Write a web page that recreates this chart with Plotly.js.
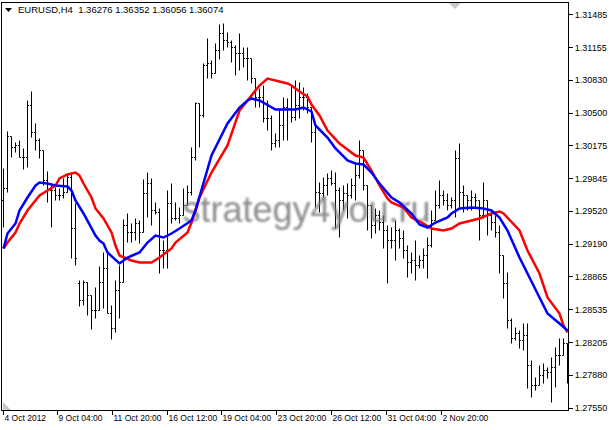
<!DOCTYPE html>
<html><head><meta charset="utf-8">
<script src="https://cdn.plot.ly/plotly-3.0.1.min.js"></script>
<style>html,body{margin:0;padding:0;background:#fff;} #chart{width:610px;height:430px;}</style>
</head><body><div id="chart"></div>
<script>
const headerText = 'EURUSD,H4  1.36276 1.36352 1.36056 1.36074';
const watermarkText = 'strategy4you.ru';

const openP = [
1.29625,1.29745,1.30265,1.30155,1.30175,1.30055,1.30055,1.30575,1.30305,1.30225,
1.30125,1.29825,1.29725,1.29725,1.29675,1.29675,1.29705,1.29855,1.29345,1.28795,
1.28625,1.28805,1.28675,1.28525,1.28525,1.28805,1.28945,1.28495,1.28345,1.28725,
1.28805,1.29375,1.29305,1.29305,1.29395,1.29305,1.29695,1.29795,1.29525,1.29505,
1.29125,1.29125,1.29595,1.29445,1.29445,1.29475,1.29575,1.29705,1.30055,1.30595,
1.30475,1.30975,1.30995,1.30895,1.31125,1.31295,1.31225,1.31205,1.31155,1.31095,
1.31095,1.31045,1.31045,1.30845,1.30655,1.30655,1.30445,1.30445,1.30195,1.30225,
1.30375,1.30555,1.30545,1.30455,1.30575,1.30655,1.30655,1.30555,1.30305,1.29705,
1.29695,1.29775,1.29845,1.29795,1.29725,1.29625,1.29695,1.29675,1.29775,1.29875,
1.30125,1.29775,1.29575,1.29375,1.29475,1.29405,1.29325,1.29225,1.29225,1.29325,
1.29245,1.29125,1.29005,1.29025,1.28975,1.29025,1.29075,1.29175,1.29425,1.29575,
1.29675,1.29625,1.29575,1.29625,1.30045,1.29705,1.29675,1.29625,1.29655,1.29625,
1.29475,1.29625,1.29475,1.29405,1.29305,1.29075,1.28795,1.28425,1.28245,1.28295,
1.28225,1.28275,1.27975,1.27775,1.27775,1.27875,1.27925,1.27905,1.27955,1.28075,
1.28075,1.28195];
const highP = [
1.29945,1.30315,1.30265,1.30205,1.30225,1.30145,1.30625,1.30715,1.30395,1.30245,
1.30125,1.29915,1.29775,1.29755,1.29745,1.29845,1.29895,1.29895,1.29595,1.28825,
1.28825,1.28805,1.28675,1.28755,1.28965,1.29105,1.29095,1.28575,1.28825,1.28975,
1.29435,1.29495,1.29395,1.29445,1.29425,1.29835,1.29905,1.29845,1.29605,1.29545,
1.29225,1.29725,1.29795,1.29605,1.29555,1.29745,1.29775,1.30155,1.30605,1.30595,
1.30995,1.31245,1.31025,1.31195,1.31385,1.31395,1.31305,1.31225,1.31175,1.31295,
1.31155,1.31155,1.31045,1.30845,1.30745,1.30775,1.30625,1.30475,1.30295,1.30525,
1.30655,1.30645,1.30775,1.30825,1.30805,1.30755,1.30695,1.30555,1.30375,1.29805,
1.29855,1.29895,1.29925,1.29905,1.29755,1.29775,1.29795,1.29845,1.29995,1.30225,
1.30125,1.29775,1.29575,1.29545,1.29525,1.29475,1.29375,1.29355,1.29425,1.29345,
1.29325,1.29175,1.29105,1.29225,1.29075,1.29145,1.29255,1.29525,1.29725,1.29825,
1.29725,1.29695,1.29655,1.30125,1.30195,1.29775,1.29675,1.29725,1.29695,1.29625,
1.29805,1.29625,1.29525,1.29475,1.29375,1.29075,1.28905,1.28445,1.28355,1.28325,
1.28395,1.28395,1.28025,1.27855,1.27975,1.27995,1.27955,1.28055,1.28155,1.28245,
1.28245,1.28195];
const lowP = [
1.29355,1.29705,1.30055,1.30105,1.30055,1.29935,1.29955,1.30255,1.30125,1.30045,
1.29775,1.29605,1.29355,1.29625,1.29625,1.29645,1.29705,1.29045,1.28975,1.28565,
1.28575,1.28475,1.28335,1.28445,1.28525,1.28545,1.28495,1.28235,1.28305,1.28445,
1.28805,1.29205,1.29205,1.29225,1.29195,1.29305,1.29455,1.29375,1.29485,1.28895,
1.28945,1.28945,1.29395,1.29425,1.29395,1.29475,1.29575,1.29675,1.30025,1.30155,
1.30455,1.30845,1.30845,1.30895,1.31035,1.31125,1.31155,1.31005,1.30875,1.30925,
1.30955,1.30825,1.30795,1.30555,1.30555,1.30405,1.30325,1.30125,1.30155,1.30155,
1.30225,1.30225,1.30405,1.30425,1.30445,1.30525,1.30495,1.30205,1.29555,1.29505,
1.29655,1.29675,1.29775,1.29345,1.29255,1.29525,1.29445,1.29645,1.29625,1.29845,
1.29725,1.29325,1.29245,1.29295,1.29325,1.29145,1.28795,1.29145,1.29025,1.29145,
1.29045,1.28855,1.28895,1.28825,1.28945,1.28945,1.28845,1.29155,1.29425,1.29545,
1.29575,1.29525,1.29545,1.29455,1.29555,1.29505,1.29525,1.29525,1.29555,1.29225,
1.29445,1.29275,1.29325,1.29255,1.28895,1.28645,1.28345,1.28195,1.28225,1.28145,
1.28125,1.27745,1.27655,1.27725,1.27775,1.27795,1.27845,1.27605,1.27755,1.27975,
1.28075,1.27795];
const closeP = [
1.29745,1.30265,1.30155,1.30175,1.30055,1.30055,1.30575,1.30305,1.30225,1.30125,
1.29825,1.29725,1.29725,1.29675,1.29675,1.29705,1.29855,1.29345,1.29045,1.28625,
1.28805,1.28675,1.28525,1.28525,1.28805,1.28945,1.28495,1.28345,1.28725,1.28805,
1.29375,1.29305,1.29305,1.29395,1.29305,1.29695,1.29795,1.29525,1.29505,1.29125,
1.29125,1.29595,1.29445,1.29445,1.29475,1.29575,1.29705,1.30055,1.30595,1.30475,
1.30975,1.30995,1.30895,1.31125,1.31295,1.31225,1.31205,1.31155,1.31095,1.31095,
1.31045,1.31045,1.30845,1.30655,1.30655,1.30445,1.30445,1.30195,1.30225,1.30375,
1.30555,1.30545,1.30455,1.30575,1.30655,1.30655,1.30555,1.30305,1.29705,1.29695,
1.29775,1.29845,1.29795,1.29725,1.29625,1.29695,1.29675,1.29775,1.29875,1.30125,
1.29775,1.29575,1.29375,1.29475,1.29405,1.29325,1.29225,1.29225,1.29325,1.29245,
1.29125,1.29005,1.29025,1.28975,1.29025,1.29075,1.29175,1.29425,1.29575,1.29675,
1.29625,1.29575,1.29625,1.30045,1.29705,1.29675,1.29625,1.29655,1.29625,1.29475,
1.29625,1.29475,1.29405,1.29305,1.29075,1.28795,1.28425,1.28245,1.28295,1.28225,
1.28275,1.27975,1.27775,1.27775,1.27875,1.27925,1.27905,1.27955,1.28075,1.28075,
1.28195,1.27825];

// moving averages read at bar positions
const blueIdx = [0,1,3,4,6,8,9,11,13,16,17,18,20,22,23,24,25,26,28,29,31,34,36,38,40,42,44,47,48,50,52,56,59,61,62,64,67,68,71,73,75,77,78,81,83,86,88,90,92,94,97,99,102,104,106,108,111,112,114,117,120,122,124,126,129,131,134,136,139,141];
const blueVal = [1.29145,1.29295,1.29395,1.29525,1.29655,1.29775,1.29805,1.29795,1.29775,1.29765,
1.29725,1.29625,1.29495,1.29355,1.29275,1.29225,1.29195,1.29105,1.29025,1.28995,
1.29055,1.29105,1.29205,1.29275,1.29255,1.29295,1.29345,1.29425,1.29525,1.29795,
1.30075,1.30395,1.30555,1.30625,1.30645,1.30625,1.30555,1.30535,1.30535,1.30535,
1.30555,1.30515,1.30375,1.30255,1.30145,1.30025,1.29995,1.29985,1.29905,1.29795,
1.29655,1.29605,1.29495,1.29385,1.29355,1.29405,1.29455,1.29495,1.29545,1.29555,
1.29545,1.29525,1.29455,1.29325,1.29055,1.28895,1.28655,1.28495,1.28395,1.28325];
const redIdx = [0,1,3,4,6,8,9,11,13,14,16,18,19,20,22,23,25,27,28,29,32,34,37,39,42,43,46,47,49,52,56,59,62,64,66,68,71,72,74,76,77,79,81,84,87,88,90,92,94,96,97,100,102,105,107,110,112,114,117,119,122,124,125,126,129,131,134,136,139,140,141];
const redVal = [1.29145,1.29205,1.29305,1.29395,1.29525,1.29625,1.29675,1.29725,1.29775,1.29845,
1.29885,1.29905,1.29875,1.29795,1.29655,1.29545,1.29445,1.29305,1.29175,1.29075,
1.29025,1.29005,1.29005,1.29055,1.29145,1.29205,1.29305,1.29405,1.29655,1.29905,
1.30175,1.30525,1.30675,1.30775,1.30845,1.30825,1.30795,1.30775,1.30715,1.30665,
1.30585,1.30475,1.30325,1.30195,1.30105,1.30075,1.30055,1.29925,1.29775,1.29645,
1.29605,1.29555,1.29455,1.29395,1.29345,1.29325,1.29345,1.29395,1.29425,1.29445,
1.29495,1.29515,1.29495,1.29455,1.29325,1.29125,1.28895,1.28655,1.28495,1.28375,1.28305];

const yTickVals = [1.31485,1.31155,1.30830,1.30500,1.30175,1.29845,1.29520,1.29190,1.28865,1.28535,1.28205,1.27880,1.27550];
const yTickLabels = ['1.31485','1.31155','1.30830','1.30500','1.30175','1.29845','1.29520','1.29190','1.28865','1.28535','1.28205','1.27880','1.27550'];
const xTickPos = [0,13.5,27.25,41,54.5,68.25,82,95.75,109.5];
const xTickLabels = ['4 Oct 2012','9 Oct 04:00','11 Oct 20:00','16 Oct 12:00','19 Oct 04:00','23 Oct 20:00','26 Oct 12:00','31 Oct 04:00','2 Nov 20:00'];

const barIdx = openP.map((_, i) => i);

const W = 610, H = 430, ML = 2, MR = 42, MT = 3, MB = 20;
const px = x => (x - ML) / (W - ML - MR);
const py = y => 1 - (y - MT) / (H - MT - MB);

const traces = [
  {type:'scatter', mode:'text', x:[75.75], y:[1.2950], text:[watermarkText],
   textfont:{family:'Liberation Sans, Arial, sans-serif', size:36, color:'rgba(120,120,120,0.85)'},
   hoverinfo:'skip', showlegend:false},
  {type:'ohlc', x:barIdx, open:openP, high:highP, low:lowP, close:closeP,
   increasing:{line:{color:'#000000', width:1}}, decreasing:{line:{color:'#000000', width:1}},
   tickwidth:0.35, hoverinfo:'skip', showlegend:false},
  {type:'scatter', mode:'lines', x:redIdx, y:redVal, line:{color:'#ff0000', width:2.5}, hoverinfo:'skip', showlegend:false},
  {type:'scatter', mode:'lines', x:blueIdx, y:blueVal, line:{color:'#0000ff', width:2.5}, hoverinfo:'skip', showlegend:false}
];

const layout = {
  width: W, height: H,
  margin: {l:ML, r:MR, t:MT, b:MB, pad:0},
  paper_bgcolor:'#ffffff', plot_bgcolor:'#ffffff', showlegend:false,
  font:{family:'Liberation Sans, Arial, sans-serif', size:9, color:'#000000'},
  xaxis:{range:[-0.375,141.125], showgrid:false, zeroline:false, showline:true, linecolor:'#000', linewidth:1, mirror:true,
    ticks:'outside', ticklen:4, tickcolor:'#000', tickwidth:1, tickvals:xTickPos, ticktext:xTickLabels, tickangle:0,
    ticklabelposition:'outside right', ticklabelstandoff:0, tickfont:{size:8.5, color:'#000'}, rangeslider:{visible:false}, fixedrange:true},
  yaxis:{side:'right', range:[1.2753,1.316], showgrid:false, zeroline:false, showline:true, linecolor:'#000', linewidth:1, mirror:true,
    ticks:'outside', ticklen:4, tickcolor:'#000', tickwidth:1, tickvals:yTickVals, ticktext:yTickLabels,
    tickfont:{size:9, color:'#000'}, fixedrange:true},
  annotations:[
    {xref:'paper', yref:'paper', x:px(16), y:py(10), xanchor:'left', yanchor:'middle', showarrow:false,
     text:headerText, font:{family:'Liberation Sans, Arial, sans-serif', size:9.5, color:'#000'}}
  ],
  shapes:[
    {type:'path', xref:'paper', yref:'paper', path:`M ${px(5)} ${py(8)} L ${px(12)} ${py(8)} L ${px(8.5)} ${py(12)} Z`, fillcolor:'#000', line:{width:0}},
    {type:'path', xref:'paper', yref:'paper', path:`M ${px(449)} ${py(3)} L ${px(461)} ${py(3)} L ${px(455)} ${py(9)} Z`, fillcolor:'#c8c8c8', line:{width:0}},
    {type:'path', xref:'paper', yref:'paper', path:`M ${px(3)} ${py(402)} L ${px(3)} ${py(410)} L ${px(11)} ${py(410)} Z`, fillcolor:'#c8c8c8', line:{width:0}}
  ]
};

Plotly.newPlot('chart', traces, layout, {staticPlot:true, displayModeBar:false}).then(gd => {
  const svg = gd.querySelector('svg.main-svg');
  const ns = 'http://www.w3.org/2000/svg';
  let defs = svg.querySelector('defs');
  if (!defs) { defs = document.createElementNS(ns, 'defs'); svg.insertBefore(defs, svg.firstChild); }
  const f = document.createElementNS(ns, 'filter');
  f.setAttribute('id', 'wmblur'); f.setAttribute('x', '-10%'); f.setAttribute('y', '-30%');
  f.setAttribute('width', '120%'); f.setAttribute('height', '160%');
  const b = document.createElementNS(ns, 'feGaussianBlur');
  b.setAttribute('stdDeviation', '1.2');
  f.appendChild(b); defs.appendChild(f);
  const t = gd.querySelector('.scatterlayer .trace .textpoint text');
  if (t) t.setAttribute('filter', 'url(#wmblur)');
});
</script>
</body></html>
